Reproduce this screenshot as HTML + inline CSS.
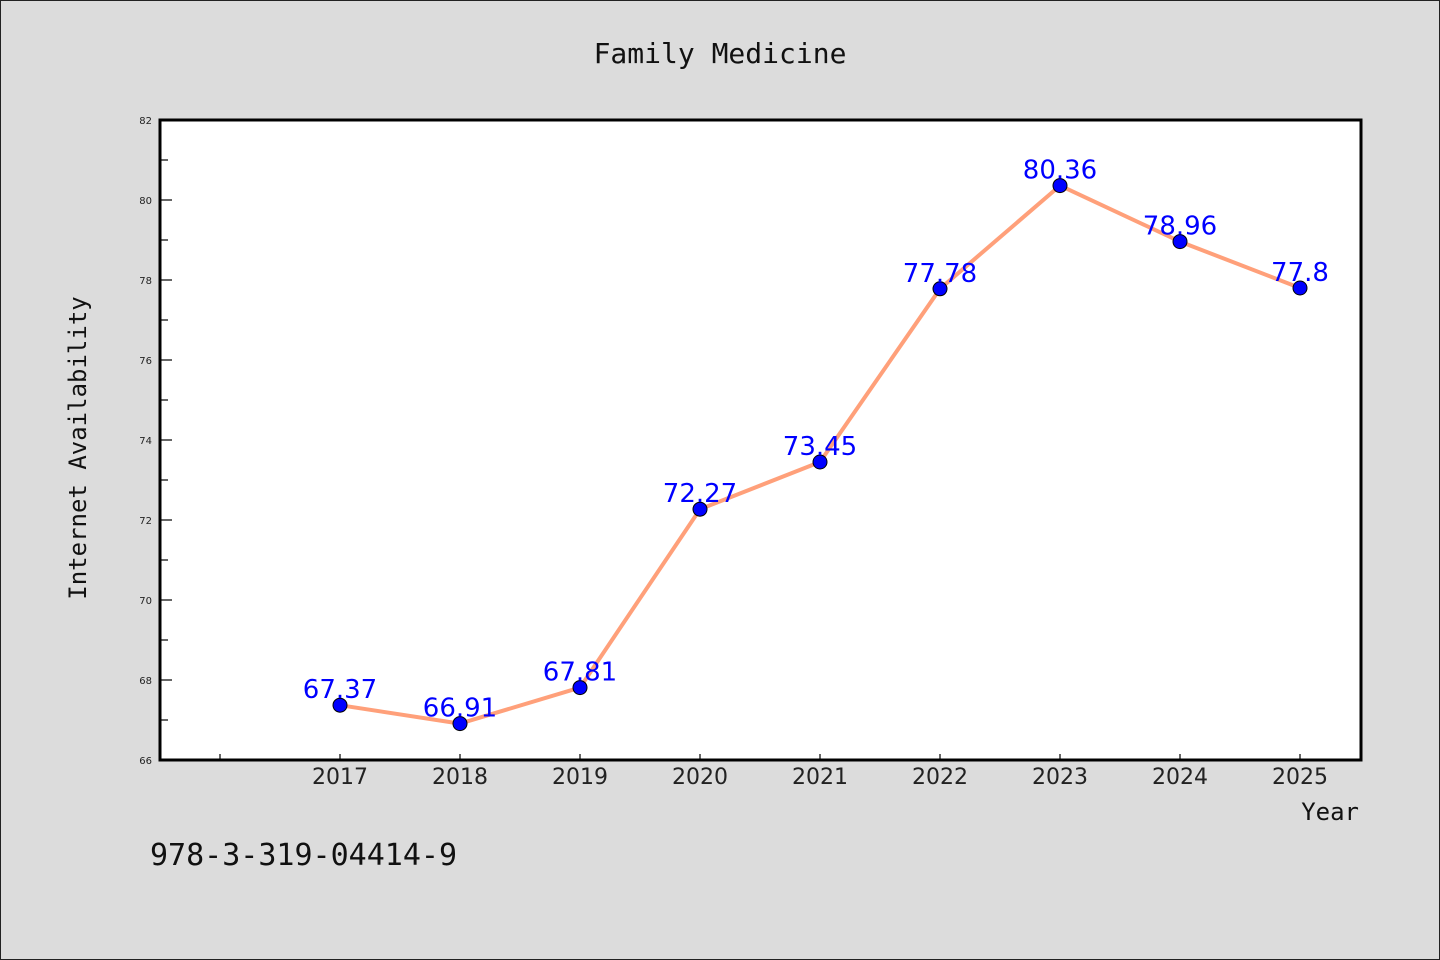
<!DOCTYPE html>
<html><head><meta charset="utf-8"><style>
html,body{margin:0;padding:0;background:#dcdcdc}
svg{display:block}
</style></head><body>
<svg id="chart" width="1440" height="960" xmlns="http://www.w3.org/2000/svg">
<rect x="0.5" y="0.5" width="1439" height="959" fill="#dcdcdc" stroke="#222" stroke-width="1"/>
<text x="720" y="63" text-anchor="middle" font-family="DejaVu Sans Mono, Liberation Mono, monospace" font-size="28" fill="#111">Family Medicine</text>
<rect x="160" y="120" width="1201" height="640" fill="#fff"/>
<g id="axes"></g>
<g id="marks"></g>
<rect x="160" y="120" width="1201" height="640" fill="none" stroke="#000" stroke-width="3"/>
<text x="86" y="448" transform="rotate(-90 86 448)" text-anchor="middle" font-family="DejaVu Sans Mono, Liberation Mono, monospace" font-size="24" fill="#111">Internet Availability</text>
<text x="1359" y="820" text-anchor="end" font-family="DejaVu Sans Mono, Liberation Mono, monospace" font-size="24" fill="#111">Year</text>
<text x="150" y="865" font-family="DejaVu Sans Mono, Liberation Mono, monospace" font-size="30" fill="#111">978-3-319-04414-9</text>
</svg>
<script>
const years = [2017,2018,2019,2020,2021,2022,2023,2024,2025];
const values = [67.37,66.91,67.81,72.27,73.45,77.78,80.36,78.96,77.8];
const yTicks = [66,68,70,72,74,76,78,80,82];
const xTicks = [2016,2017,2018,2019,2020,2021,2022,2023,2024,2025];
const NS='http://www.w3.org/2000/svg';
const X = v => 160 + (v-2015.5)*120;
const Y = v => 760 - (v-66)*40;
function mk(tag, attrs, parent, txt){const e=document.createElementNS(NS,tag);for(const k in attrs)e.setAttribute(k,attrs[k]);if(txt!==undefined)e.textContent=txt;parent.appendChild(e);return e;}
const axes=document.getElementById('axes'), marks=document.getElementById('marks');
yTicks.forEach((t,i)=>{
  const l=mk('line',{x1:160,x2:172,y1:Y(t),y2:Y(t),stroke:'#000','stroke-width':1.2},axes);
  
  
  const lb=mk('text',{x:152,y:Y(t)+4,'text-anchor':'end','font-family':'DejaVu Sans, sans-serif','font-size':10,fill:'#222'},axes,String(t));
  
  
  if(i<yTicks.length-1){
    const m=mk('line',{x1:160,x2:168,y1:Y(t+1),y2:Y(t+1),stroke:'#000','stroke-width':1.2},axes);
    
    
  }
});
xTicks.forEach(t=>{
  const l=mk('line',{x1:X(t),x2:X(t),y1:760,y2:754,stroke:'#000','stroke-width':1.2},axes);
  
  
  if(years.includes(t)){
    const lb=mk('text',{x:X(t),y:784,'text-anchor':'middle','font-family':'DejaVu Sans, sans-serif','font-size':22,fill:'#222'},axes,String(t));
    
    
  }
});
const pts=years.map((y,i)=>X(y)+','+Y(values[i])).join(' ');
const line=mk('polyline',{points:pts,fill:'none',stroke:'#ffa07a','stroke-width':4,'stroke-linejoin':'round'},marks);


years.forEach((y,i)=>{
  const c=mk('circle',{cx:X(y),cy:Y(values[i]),r:7,fill:'#0000ff',stroke:'#000','stroke-width':1},marks);
  
  
});
years.forEach((y,i)=>{
  const t=mk('text',{x:X(y),y:Y(values[i])-7,'text-anchor':'middle','font-family':'DejaVu Sans, sans-serif','font-size':26,fill:'#0000ff'},marks,String(values[i]));
  
  
});
</script>
</body></html>
